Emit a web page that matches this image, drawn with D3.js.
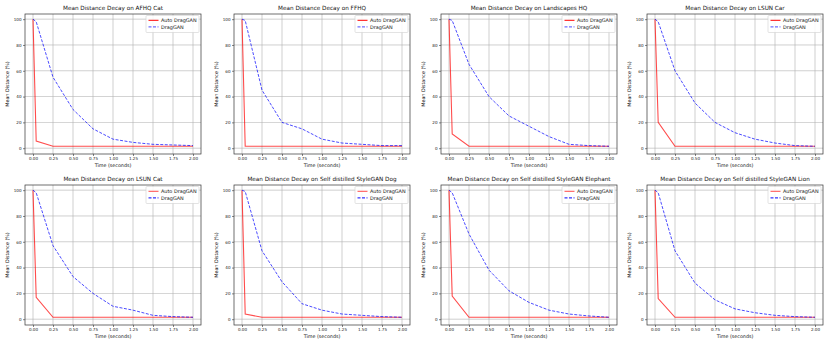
<!DOCTYPE html>
<html>
<head>
<meta charset="utf-8">
<script src="https://cdn.jsdelivr.net/npm/d3@7"></script>
<style>
  body { margin: 0; background: #fff; }
  svg { display: block; font-family: "DejaVu Sans", sans-serif; }
</style>
</head>
<body>
<div id="chart"></div>
<script>
const W = 830, H = 349;

// time points (seconds)
const TIMES = [0, 0.04, 0.25, 0.5, 0.75, 1.0, 1.25, 1.5, 1.75, 2.0];
const X_TICKS = [0, 0.25, 0.5, 0.75, 1.0, 1.25, 1.5, 1.75, 2.0];
const Y_TICKS = [0, 20, 40, 60, 80, 100];

const DATASETS = ["AFHQ Cat", "FFHQ", "Landscapes HQ", "LSUN Car",
  "LSUN Cat", "Self distilled StyleGAN Dog", "Self distilled StyleGAN Elephant", "Self distilled StyleGAN Lion"];

// Auto DragGAN mean distance (%)
const autoAfhqCat   = [100, 5.5, 1.5, 1.5, 1.5, 1.5, 1.5, 1.5, 1.5, 1.5];
const autoFfhq      = [100, 1.5, 1.5, 1.5, 1.5, 1.5, 1.5, 1.5, 1.5, 1.5];
const autoLandscape = [100, 11, 1.5, 1.5, 1.5, 1.5, 1.5, 1.5, 1.5, 1.5];
const autoLsunCar   = [100, 20, 1.5, 1.5, 1.5, 1.5, 1.5, 1.5, 1.5, 1.5];
const autoLsunCat   = [100, 17, 1.5, 1.5, 1.5, 1.5, 1.5, 1.5, 1.5, 1.5];
const autoDog       = [100, 4, 1.5, 1.5, 1.5, 1.5, 1.5, 1.5, 1.5, 1.5];
const autoElephant  = [100, 18, 1.5, 1.5, 1.5, 1.5, 1.5, 1.5, 1.5, 1.5];
const autoLion      = [100, 16, 1.5, 1.5, 1.5, 1.5, 1.5, 1.5, 1.5, 1.5];

// DragGAN mean distance (%)
const dragAfhqCat   = [100, 98, 55, 30, 15, 7, 4.5, 3, 2.5, 2];
const dragFfhq      = [100, 99, 45, 20, 15, 7, 4, 3, 2, 2];
const dragLandscape = [100, 99, 65, 40, 25, 17, 9, 3, 2, 1.5];
const dragLsunCar   = [100, 98, 60, 35, 20, 12, 7, 4, 2, 1.5];
const dragLsunCat   = [100, 98, 57, 33, 20, 10, 7, 3, 2, 1.5];
const dragDog       = [100, 99, 53, 29, 12, 7, 4, 3, 2, 1.5];
const dragElephant  = [100, 98, 66, 38, 22, 13, 7, 4, 2.5, 1.5];
const dragLion      = [100, 98, 53, 28, 15, 8, 5, 3, 2, 1.5];

const AUTO = [autoAfhqCat, autoFfhq, autoLandscape, autoLsunCar, autoLsunCat, autoDog, autoElephant, autoLion];
const DRAG = [dragAfhqCat, dragFfhq, dragLandscape, dragLsunCar, dragLsunCat, dragDog, dragElephant, dragLion];

// panel layout
const COL_LEFT = [25, 234, 441, 647];
const ROW_TOP = [14, 185];
const PW = 176, PH = 140;

const RED = "#ff0000", BLUE = "#0000ff";

const svg = d3.select("#chart").append("svg")
  .attr("width", W).attr("height", H);

svg.append("rect").attr("width", W).attr("height", H).attr("fill", "#fff");

DATASETS.forEach((name, i) => {
  const row = Math.floor(i / 4), col = i % 4;
  const g = svg.append("g")
    .attr("transform", `translate(${COL_LEFT[col]},${ROW_TOP[row]})`);

  const x = d3.scaleLinear().domain([-0.1, 2.1]).range([0, PW]);
  const y = d3.scaleLinear().domain([-4.5, 104]).range([PH, 0]);

  // grid
  g.append("g").selectAll("line").data(X_TICKS).join("line")
    .attr("x1", d => x(d)).attr("x2", d => x(d))
    .attr("y1", 0).attr("y2", PH)
    .attr("stroke", "#b0b0b0").attr("stroke-width", 0.7).attr("opacity", 0.85);
  g.append("g").selectAll("line").data(Y_TICKS).join("line")
    .attr("y1", d => y(d)).attr("y2", d => y(d))
    .attr("x1", 0).attr("x2", PW)
    .attr("stroke", "#b0b0b0").attr("stroke-width", 0.7).attr("opacity", 0.85);

  const line = d3.line().x((d, j) => x(TIMES[j])).y(d => y(d));

  g.append("path").datum(AUTO[i])
    .attr("d", line).attr("fill", "none")
    .attr("stroke", RED).attr("stroke-width", 1.1).attr("opacity", 0.7);
  g.append("path").datum(DRAG[i])
    .attr("d", line).attr("fill", "none")
    .attr("stroke", BLUE).attr("stroke-width", 1).attr("opacity", 0.7)
    .attr("stroke-dasharray", "3,1.5");

  // axes
  const xAxis = d3.axisBottom(x).tickValues(X_TICKS).tickFormat(d3.format(".2f"))
    .tickSize(2).tickPadding(1.5);
  const yAxis = d3.axisLeft(y).tickValues(Y_TICKS).tickFormat(d3.format("d"))
    .tickSize(2).tickPadding(1.5);

  const xa = g.append("g").attr("transform", `translate(0,${PH})`).call(xAxis);
  const ya = g.append("g").call(yAxis);
  [xa, ya].forEach(a => {
    a.select(".domain").remove();
    a.selectAll("line").attr("stroke", "#333").attr("stroke-width", 0.6);
    a.selectAll("text").attr("font-size", 4.1).attr("fill", "#222")
      .attr("font-family", "DejaVu Sans");
  });

  // frame
  g.append("rect").attr("width", PW).attr("height", PH)
    .attr("fill", "none").attr("stroke", "#333").attr("stroke-width", 0.7);

  // title & labels
  g.append("text").attr("x", PW / 2).attr("y", -4.3)
    .attr("text-anchor", "middle").attr("font-size", 5.7).attr("fill", "#111")
    .text(`Mean Distance Decay on ${name}`);
  g.append("text").attr("x", PW / 2).attr("y", PH + 13)
    .attr("text-anchor", "middle").attr("font-size", 4.8).attr("fill", "#111")
    .text("Time (seconds)");
  g.append("text")
    .attr("transform", `translate(-16.5,${PH / 2}) rotate(-90)`)
    .attr("text-anchor", "middle").attr("font-size", 4.8).attr("fill", "#111")
    .text("Mean Distance (%)");

  // legend
  const lw = 53, lh = 17;
  const lg = g.append("g").attr("transform", `translate(${PW - lw - 2},1.5)`);
  lg.append("rect").attr("width", lw).attr("height", lh).attr("rx", 1)
    .attr("fill", "#fff").attr("fill-opacity", 0.85)
    .attr("stroke", "#d0d0d0").attr("stroke-width", 0.6);
  const items = [
    { label: "Auto DragGAN", color: RED, dash: null, op: row === 0 ? 1 : 0.7 },
    { label: "DragGAN", color: BLUE, dash: "3,1.5", op: row === 0 ? 0.7 : 1 }
  ];
  items.forEach((it, k) => {
    const yy = 4.8 + k * 6.6;
    lg.append("line").attr("x1", 2.5).attr("x2", 12.5).attr("y1", yy).attr("y2", yy)
      .attr("stroke", it.color).attr("stroke-width", 1).attr("opacity", it.op)
      .attr("stroke-dasharray", it.dash);
    lg.append("text").attr("x", 15).attr("y", yy + 1.7)
      .attr("font-size", 4.9).attr("fill", "#111").text(it.label);
  });
});
</script>
</body>
</html>
